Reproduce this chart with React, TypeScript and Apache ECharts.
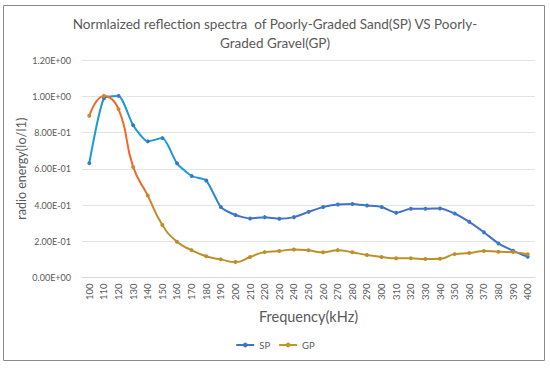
import React, { useEffect, useRef } from "react";
import * as echarts from "echarts";

const categories = ["100","110","120","130","140","150","160","170","180","190","200","210","220","230","240","250","260","270","280","290","300","310","320","330","340","350","360","370","380","390","400"];
const spValues = [0.631,0.989,1.002,0.840,0.751,0.769,0.630,0.560,0.535,0.389,0.345,0.326,0.333,0.324,0.333,0.362,0.389,0.403,0.406,0.397,0.389,0.357,0.379,0.379,0.381,0.353,0.307,0.250,0.188,0.147,0.114];
const gpValues = [0.892,1.002,0.929,0.610,0.452,0.290,0.197,0.151,0.117,0.100,0.085,0.113,0.140,0.146,0.155,0.150,0.139,0.151,0.139,0.124,0.113,0.106,0.106,0.102,0.103,0.129,0.135,0.146,0.142,0.140,0.128];
const yTicks = ["0.00E+00","2.00E-01","4.00E-01","6.00E-01","8.00E-01","1.00E+00","1.20E+00"];

export default function App() {
  const ref = useRef<HTMLDivElement>(null);
  useEffect(() => {
    document.body.style.margin = "0";
    const chart = echarts.init(ref.current!, null, { renderer: "svg" });
    const font = "Lato, sans-serif";
    const spGrad = () => new echarts.graphic.LinearGradient(0, 0, 1, 0, [
      { offset: 0, color: "#1a9bd1" },
      { offset: 0.26, color: "#1a9bd1" },
      { offset: 0.32, color: "#4470c8" },
      { offset: 1, color: "#4470c8" },
    ]);
    const gpGrad = () => new echarts.graphic.LinearGradient(0, 0, 1, 0, [
      { offset: 0, color: "#f2682c" },
      { offset: 0.11, color: "#f2682c" },
      { offset: 0.16, color: "#bb922a" },
      { offset: 1, color: "#bb922a" },
    ]);
    chart.setOption({
      animation: false,
      backgroundColor: "#ffffff",
      textStyle: { fontFamily: font },
      title: {
        text: "Normlaized reflection spectra  of Poorly-Graded Sand(SP) VS Poorly-\nGraded Gravel(GP)",
        left: "center",
        top: 9,
        textStyle: { fontSize: 13.5, fontWeight: "normal", color: "#595959", lineHeight: 19, fontFamily: font },
      },
      graphic: [
        { type: "rect", shape: { x: 3.5, y: 5.5, width: 541, height: 355 }, style: { fill: "none", stroke: "#8a8a8a", lineWidth: 1 }, silent: true, z: -1 },
      ],
      legend: {
        bottom: 14,
        left: "center",
        itemWidth: 18,
        itemHeight: 6,
        itemGap: 8,
        textStyle: { fontSize: 9.5, color: "#595959", fontFamily: font },
        data: [
          { name: "SP", itemStyle: { color: "#4472c4" }, lineStyle: { color: "#4472c4" } },
          { name: "GP", itemStyle: { color: "#c0962a" }, lineStyle: { color: "#c0962a" } },
        ],
      },
      grid: { left: 82, right: 15, top: 60, bottom: 91.5, containLabel: false },
      xAxis: {
        type: "category",
        data: categories,
        boundaryGap: true,
        name: "Frequency(kHz)",
        nameLocation: "middle",
        nameGap: 31,
        nameMoveOverlap: false,
        nameTextStyle: { fontSize: 14.5, color: "#595959", fontFamily: font },
        axisLine: { lineStyle: { color: "#d9d9d9" } },
        axisTick: { show: false },
        axisLabel: { rotate: 90, fontSize: 9.5, color: "#595959", margin: 6, interval: 0 },
      },
      yAxis: {
        type: "value",
        min: 0,
        max: 1.2,
        interval: 0.2,
        name: "radio energy(Io/I1)",
        nameLocation: "middle",
        nameGap: 54,
        nameMoveOverlap: false,
        nameTextStyle: { fontSize: 12.5, color: "#595959", fontFamily: font },
        axisLine: { show: false },
        axisTick: { show: false },
        splitLine: { lineStyle: { color: "#e3e3e3" } },
        axisLabel: {
          fontSize: 9,
          color: "#595959",
          margin: 11,
          formatter: (v: number) => yTicks[Math.round(v / 0.2)] ?? "",
        },
      },
      series: [
        {
          name: "SP",
          type: "line",
          data: spValues,
          smooth: 0.2,
          symbol: "circle",
          symbolSize: 4,
          lineStyle: { width: 2, color: spGrad() },
          itemStyle: { color: spGrad() },
        },
        {
          name: "GP",
          type: "line",
          data: gpValues,
          smooth: 0.5,
          symbol: "circle",
          symbolSize: 4,
          lineStyle: { width: 2, color: gpGrad() },
          itemStyle: { color: gpGrad() },
        },
      ],
    });
    return () => chart.dispose();
  }, []);
  return <div ref={ref} style={{ width: 550, height: 369 }} />;
}
